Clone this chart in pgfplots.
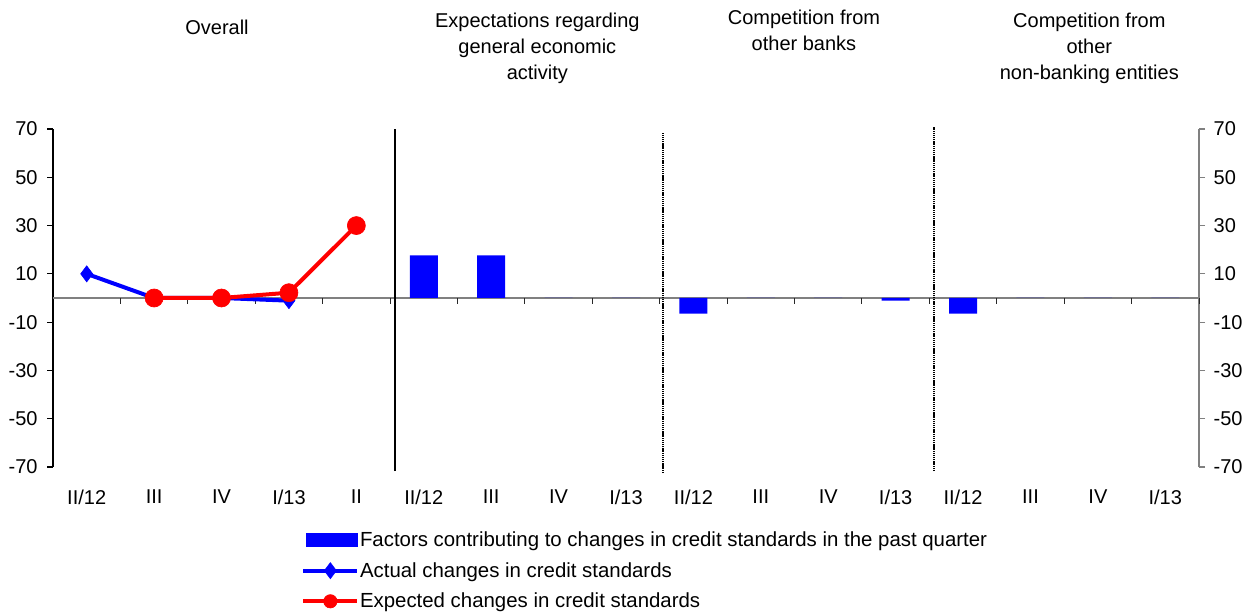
\documentclass[border=0pt]{standalone}
\usepackage{fontspec}
\setmainfont{Liberation Sans}
\usepackage{pgfplots}
\pgfplotsset{compat=1.18}
\definecolor{axgray}{RGB}{128,128,128}
\definecolor{tickdark}{RGB}{40,40,40}
\newcommand{\fs}{\fontsize{15}{18}\selectfont}
\pgfplotsset{
  base/.style={
    at={(39.75pt,108.75pt)}, anchor=south west, scale only axis,
    width=859.5pt, height=253.5pt,
    xmin=-0.5, xmax=16.5, ymin=-70, ymax=70,
    clip=false,
    tick label style={font=\fs},
    /pgf/number format/assume math mode=true,
    tick align=outside, major tick length=4.5pt,
  },
  barleg/.style={legend image code/.code={\fill[blue] (2.25pt,-5.6pt) rectangle (41.25pt,5.6pt);}},
  lineleg/.style={legend image code/.code={\draw[mark repeat=2,mark phase=2,##1] plot coordinates {(0pt,0pt) (20.25pt,0pt) (40.5pt,0pt)};}},
  redleg/.style={legend image code/.code={\draw[mark repeat=2,mark phase=2,##1,mark size=5pt] plot coordinates {(0pt,0pt) (20.25pt,0pt) (40.5pt,0pt)};}},
}
\begin{document}
\begin{tikzpicture}
\useasboundingbox (0,0) rectangle (940.5pt,459pt);
% right axis
\begin{axis}[base, axis y line*=right, axis x line=none,
  ytick={-70,-50,-30,-10,10,30,50,70},
  yticklabels={-70,-50,-30,-10,10,30,50,70},
  yticklabel style={xshift=3pt},
  y axis line style={axgray, line width=1.1pt, -},
  ytick style={axgray, line width=0.8pt}]
\addplot[draw=none, forget plot] coordinates {(0,0)};
\end{axis}
% main axis
\begin{axis}[base, axis y line*=left, axis x line*=bottom,
  x axis line style={draw=none},
  y axis line style={black, line width=1.1pt, -},
  ytick={-70,-50,-30,-10,10,30,50,70},
  yticklabels={-70,-50,-30,-10,10,30,50,70},
  yticklabel style={xshift=-3.5pt},
  ytick style={black, line width=0.8pt},
  xtick={0,...,16},
  xticklabels={II/12,III,IV,I/13,II,II/12,III,IV,I/13,II/12,III,IV,I/13,II/12,III,IV,I/13},
  xtick style={draw=none},
  xticklabel style={yshift=-9.2pt},
  legend style={at={(0.2130,-0.1746)}, anchor=north west, draw=none, fill=none,
    font=\fontsize{15.3}{18}\selectfont, legend cell align=left, row sep=6.4pt,
    nodes={inner xsep=0.5pt}},
]
% zero line and category tick marks below it
\addplot[axgray, line width=1.1pt, forget plot] coordinates {(-0.5,0) (16.5,0)};
\addplot[ycomb, tickdark, line width=0.7pt, mark=none, forget plot]
  coordinates {(0.5,-2.5) (1.5,-2.5) (2.5,-2.5) (3.5,-2.5) (4.5,-2.5) (5.5,-2.5)
               (6.5,-2.5) (7.5,-2.5) (8.5,-2.5) (9.5,-2.5) (10.5,-2.5) (11.5,-2.5)
               (12.5,-2.5) (13.5,-2.5) (14.5,-2.5) (15.5,-2.5) (16.5,-2.5)};
% bars: factors contributing to changes in credit standards in the past quarter
\addplot[ybar, bar width=21pt, fill=blue, draw=none, barleg]
  coordinates {(5,17.7) (6,17.7) (7,0) (8,0) (9,-6.5) (10,0) (11,0) (12,-1.1)
               (13,-6.5) (14,0) (15,0) (16,0)};
\addlegendentry{Factors contributing to changes in credit standards in the past quarter}
% actual changes
\addplot[blue, line width=3pt, mark=diamond*, mark size=6pt,
  mark options={fill=blue, draw=blue, line width=0.5pt}, lineleg]
  coordinates {(0,10) (1,0) (2,0) (3,-1.1)};
\addlegendentry{Actual changes in credit standards}
% expected changes
\addplot[red, line width=3pt, mark=*, mark size=6.75pt,
  mark options={fill=red, draw=red, line width=0.5pt}, redleg]
  coordinates {(1,0) (2,0) (3,2.2) (4,30)};
\addlegendentry{Expected changes in credit standards}
% separators
\addplot[black, line width=1.5pt, forget plot] coordinates {(4.58,-71.7) (4.58,70)};
\addplot[black, line width=2pt, dash pattern=on 1pt off 0.6pt, forget plot] coordinates {(8.55,-72.5) (8.55,68.3)};
\addplot[black, line width=2pt, dash pattern=on 1pt off 0.6pt, forget plot] coordinates {(12.57,-71.7) (12.57,70.8)};
\end{axis}
% panel titles
\node[font=\fs, align=center] at (162.75pt,438.75pt) {Overall};
\node[font=\fontsize{15}{19.5}\selectfont, align=center] at (403pt,423pt) {Expectations regarding\\general economic\\activity};
\node[font=\fontsize{15}{19.5}\selectfont, align=center] at (603pt,436.5pt) {Competition from\\other banks};
\node[font=\fontsize{15}{19.5}\selectfont, align=center] at (817pt,423pt) {Competition from\\other\\non-banking entities};
\end{tikzpicture}
\end{document}
